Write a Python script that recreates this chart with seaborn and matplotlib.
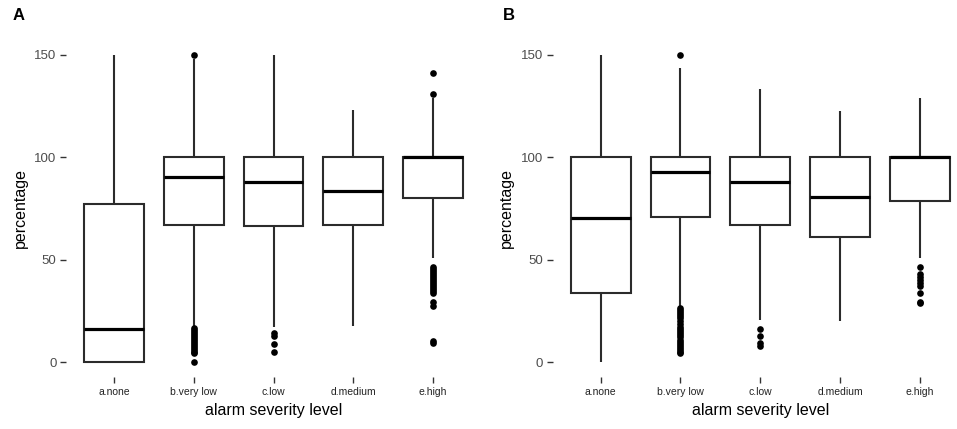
import numpy as np
import pandas as pd
import seaborn as sns
import matplotlib.pyplot as plt

levels = ["a.none", "b.very low", "c.low", "d.medium", "e.high"]

# panel A five-number summaries (whisker low, q1, median, q3, whisker high)
A_low = [0, 17, 17, 17.7, 50.6]
A_q1 = [0, 67, 66.4, 67, 80]
A_med = [16, 90.5, 87.8, 83.5, 100]
A_q3 = [77, 100, 100, 100, 100]
A_high = [150, 148, 150, 123, 128.8]

# panel A outliers
A_out_b = [150, 16.8, 15.8, 14.8, 13.8, 12.8, 11.8, 10.8, 9.8, 8.8, 7.8, 6.8, 5.8, 4.8, 4.2, 0]
A_out_c = [14, 12.5, 9, 5]
A_out_e = [141.3, 131, 46.5, 45.5, 44.5, 43.5, 42.5, 41.5, 40.5, 39.5, 38.5, 37.5, 36.5,
           35.5, 34.5, 33.5, 29.5, 27.5, 10.5, 9.2]

# panel B five-number summaries
B_low = [0, 27.5, 20.5, 20, 50.6]
B_q1 = [33.5, 70.7, 67, 61, 78.8]
B_med = [70.5, 92.7, 87.8, 80.8, 100]
B_q3 = [100, 100, 100, 100, 100]
B_high = [150, 143.4, 133.4, 122.6, 129]

# panel B outliers
B_out_b = [150, 26.5, 25.5, 24.5, 23.5, 22.5, 21.5, 20, 18.5, 17, 16, 15, 14, 13, 12, 11,
           10, 9, 8, 7, 6, 5, 4.3]
B_out_c = [16.3, 12.5, 9.1, 7.9]
B_out_e = [46.5, 43.2, 41.5, 40, 38.5, 37, 33.5, 29.4, 28.6]


def box_frame(low, q1, med, q3, high):
    rows = []
    for i, lev in enumerate(levels):
        for v in (low[i], q1[i], med[i], q3[i], high[i]):
            rows.append({"level": lev, "value": v})
    return pd.DataFrame(rows)


def out_frame(out_b, out_c, out_e):
    rows = []
    for lev, vals in (("b.very low", out_b), ("c.low", out_c), ("e.high", out_e)):
        for v in vals:
            rows.append({"level": lev, "value": v})
    return pd.DataFrame(rows)


sns.set_style("ticks")
plt.rcParams['font.family'] = ['Liberation Sans', 'DejaVu Sans']

fig = plt.figure(figsize=(9.57, 4.29), dpi=100)
W, H = 957, 429
bottom = (H - 377.4) / H
height = 337.8 / H
axA = fig.add_axes([66.1 / W, bottom, 414.8 / W, height])
axB = fig.add_axes([552.8 / W, bottom, 414.8 / W, height])

panels = [
    (axA, box_frame(A_low, A_q1, A_med, A_q3, A_high), out_frame(A_out_b, A_out_c, A_out_e), "A", 13),
    (axB, box_frame(B_low, B_q1, B_med, B_q3, B_high), out_frame(B_out_b, B_out_c, B_out_e), "B", 503),
]

for ax, bdf, odf, tag, tx in panels:
    sns.boxplot(data=bdf, x="level", y="value", order=levels, whis=np.inf, width=0.75,
                color="white", saturation=1, linecolor="#2b2b2b", linewidth=1.5,
                showfliers=False, showcaps=False,
                medianprops={"linewidth": 2.3, "color": "black"}, ax=ax)
    sns.stripplot(data=odf, x="level", y="value", order=levels, jitter=False,
                  color="black", size=4.8, linewidth=0, ax=ax, zorder=3)
    ax.set_xlim(-0.6, 4.6)
    ax.set_ylim(-7.5, 157.5)
    ax.set_yticks([0, 50, 100, 150])
    ax.set_yticklabels(["0", "50", "100", "150"])
    for s in ax.spines.values():
        s.set_visible(False)
    ax.tick_params(axis="y", length=4, width=1, color="#333333", labelsize=9.5,
                   labelcolor="#4d4d4d", pad=3)
    ax.tick_params(axis="x", length=4, width=1, color="#333333", labelsize=7.5,
                   labelcolor="#222222", pad=3)
    ax.set_xlabel("alarm severity level", fontsize=11.5, color="black")
    ax.set_ylabel("percentage", fontsize=11.5, color="black")
    ax.xaxis.set_label_coords(0.5, (377.4 - 410) / 337.8)
    ax.xaxis.label.set_va("center")
    ax.yaxis.set_label_coords((20 - 66.1) / 414.8, 0.5)
    ax.yaxis.label.set_va("center")
    fig.text(tx / W, 1 - 16 / H, tag, fontsize=12, fontweight="bold", color="black",
             ha="left", va="center")

fig.savefig("out.png", dpi=100)
